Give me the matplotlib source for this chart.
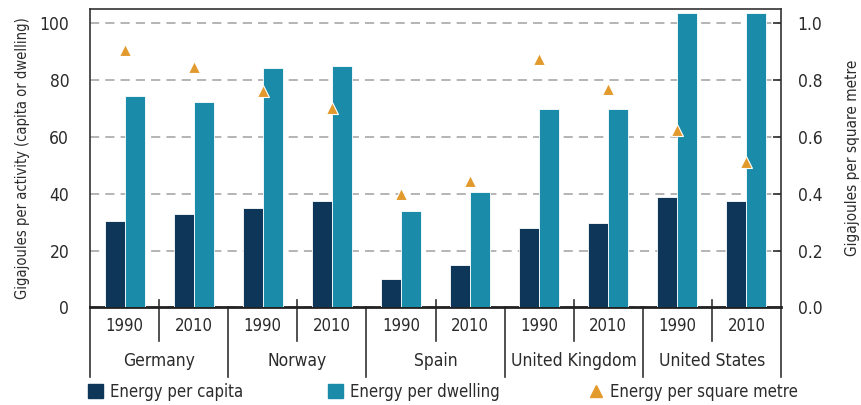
import numpy as np
import matplotlib.pyplot as plt
from matplotlib.patches import Patch
from matplotlib.lines import Line2D

plt.rcParams['font.family'] = ['DejaVu Sans']
plt.rcParams['font.stretch'] = 'condensed'

# data
countries = ['Germany', 'Norway', 'Spain', 'United Kingdom', 'United States']
years = ['1990', '2010']
per_capita = [30.3, 32.7, 34.9, 37.5, 9.9, 14.9, 27.8, 29.6, 39.0, 37.6]
per_dwelling = [74.3, 72.2, 84.2, 85.1, 34.0, 40.5, 70.0, 69.7, 103.8, 103.8]
per_sqm = [0.905, 0.848, 0.763, 0.702, 0.398, 0.445, 0.875, 0.768, 0.623, 0.512]

c_capita = '#0d3658'
c_dwelling = '#1b8baa'
c_sqm = '#e39a2d'
txt = '#2b2b2b'

fig = plt.figure(figsize=(8.62, 4.05), dpi=100)
ax = fig.add_axes([90 / 862, 1 - 307.3 / 405, (781 - 90) / 862, (307.3 - 9.3) / 405])

n = len(per_capita)
x = np.arange(n) + 0.5
w = 0.29
ax.bar(x - w / 2, per_capita, w, color=c_capita, edgecolor='white', linewidth=0.6, zorder=3)
ax.bar(x + w / 2, per_dwelling, w, color=c_dwelling, edgecolor='white', linewidth=0.6, zorder=3)

ax.set_xlim(0, n)
ax.set_ylim(0, 105)
ax.set_yticks(np.arange(0, 101, 20))
ax.set_xticks([])
ax.grid(axis='y', linestyle=(0, (6, 4)), color='#a0a0a0', linewidth=1.1, zorder=0)
ax.tick_params(axis='y', direction='in', length=0, labelsize=12.5, colors=txt, pad=15)
ax.set_ylabel('Gigajoules per activity (capita or dwelling)', fontsize=10.5, color=txt, labelpad=7)

for s in ['top', 'left', 'right']:
    ax.spines[s].set_color('#333333')
    ax.spines[s].set_linewidth(1.2)
ax.spines['bottom'].set_color('#222222')
ax.spines['bottom'].set_linewidth(2)

ax2 = ax.twinx()
ax2.set_ylim(0, 1.05)
ax2.set_yticks(np.arange(0, 1.01, 0.2))
ax2.set_yticklabels([f'{v:.1f}' for v in np.arange(0, 1.01, 0.2)])
ax2.tick_params(axis='y', direction='in', length=6, width=1.2, labelsize=12.5, colors=txt, pad=12)
ax2.set_ylabel('Gigajoules per square metre', fontsize=11, color=txt, labelpad=16)
for s in ax2.spines.values():
    s.set_visible(False)
ax2.plot(x, per_sqm, linestyle='none', marker='^', markersize=8.5, color=c_sqm,
         markeredgecolor='white', markeredgewidth=0.8, zorder=5)

# two-level category axis
tr = ax.get_xaxis_transform()
for i in range(n + 1):
    if i % 2 == 0:
        ax.plot([i, i], [0, -0.234], transform=tr, color='#333333', lw=1.2, clip_on=False)
    else:
        ax.plot([i, i], [0.023, -0.114], transform=tr, color='#333333', lw=1.2, clip_on=False)
for i in range(n):
    ax.text(x[i], -0.064, years[i % 2], transform=tr, ha='center', va='center',
            fontsize=12, color=txt)
for j, c in enumerate(countries):
    ax.text(2 * j + 1, -0.181, c, transform=tr, ha='center', va='center',
            fontsize=12.5, color=txt)

# legends
leg_items = [
    (Patch(color=c_capita), 'Energy per capita', 88 / 862),
    (Patch(color=c_dwelling), 'Energy per dwelling', 328 / 862),
    (Line2D([], [], linestyle='none', marker='^', markersize=9, color=c_sqm), 'Energy per square metre', 588 / 862),
]
for h, lab, xp in leg_items:
    fig.legend([h], [lab], loc='center left', bbox_to_anchor=(xp, 13 / 405), frameon=False,
               fontsize=12, handlelength=0.9, handleheight=0.9, handletextpad=0.4,
               borderaxespad=0, borderpad=0, labelcolor=txt)

fig.savefig('out.png', dpi=100)
